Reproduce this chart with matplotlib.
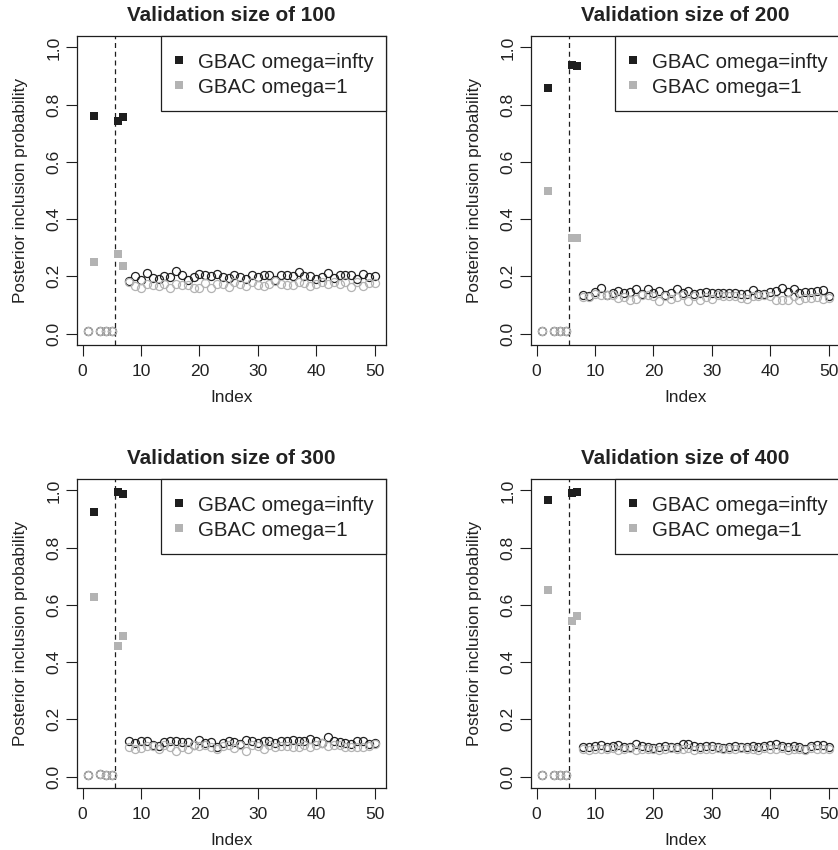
import numpy as np
import matplotlib
matplotlib.use("Agg")
import matplotlib.pyplot as plt

plt.rcParams['font.family'] = ['Liberation Sans', 'DejaVu Sans']

index = np.arange(1, 51)
signal_idx = [2, 6, 7]          # drawn as filled squares
boundary = 5.5                  # dashed vertical line
titles = ["Validation size of 100", "Validation size of 200",
          "Validation size of 300", "Validation size of 400"]
legend_labels = ["GBAC omega=infty", "GBAC omega=1"]
x_ticks = [0, 10, 20, 30, 40, 50]
y_ticks = [0.0, 0.2, 0.4, 0.6, 0.8, 1.0]

# ---- Validation size 100 ----
v100_infty = [0.010, 0.761, 0.010, 0.008, 0.008, 0.744, 0.756,
              0.184, 0.202, 0.188, 0.210, 0.195, 0.190, 0.202, 0.199, 0.217, 0.203,
              0.188, 0.196, 0.209, 0.205, 0.201, 0.209, 0.196, 0.193, 0.206, 0.196,
              0.190, 0.203, 0.199, 0.203, 0.205, 0.188, 0.205, 0.205, 0.202, 0.214,
              0.202, 0.202, 0.192, 0.199, 0.210, 0.195, 0.203, 0.203, 0.203, 0.190,
              0.207, 0.198, 0.202]
v100_one = [0.008, 0.250, 0.010, 0.008, 0.008, 0.277, 0.236,
            0.179, 0.167, 0.160, 0.174, 0.170, 0.167, 0.174, 0.160, 0.174, 0.170,
            0.170, 0.160, 0.160, 0.177, 0.160, 0.174, 0.174, 0.163, 0.179, 0.174,
            0.167, 0.179, 0.170, 0.167, 0.174, 0.185, 0.174, 0.170, 0.170, 0.179,
            0.177, 0.165, 0.174, 0.179, 0.172, 0.179, 0.174, 0.179, 0.163, 0.181,
            0.165, 0.177, 0.177]

# ---- Validation size 200 ----
v200_infty = [0.008, 0.857, 0.008, 0.008, 0.008, 0.940, 0.936,
              0.136, 0.131, 0.145, 0.159, 0.136, 0.142, 0.149, 0.142, 0.144, 0.155,
              0.140, 0.155, 0.142, 0.148, 0.134, 0.142, 0.156, 0.141, 0.150, 0.138,
              0.142, 0.144, 0.143, 0.143, 0.141, 0.142, 0.143, 0.140, 0.138, 0.151,
              0.140, 0.138, 0.144, 0.147, 0.158, 0.144, 0.155, 0.142, 0.144, 0.144,
              0.148, 0.152, 0.133]
v200_one = [0.008, 0.500, 0.008, 0.008, 0.008, 0.333, 0.333,
            0.128, 0.128, 0.137, 0.135, 0.134, 0.134, 0.124, 0.128, 0.119, 0.121,
            0.135, 0.135, 0.133, 0.114, 0.130, 0.120, 0.128, 0.135, 0.114, 0.133,
            0.119, 0.128, 0.120, 0.135, 0.130, 0.133, 0.133, 0.124, 0.121, 0.130,
            0.130, 0.135, 0.130, 0.119, 0.119, 0.119, 0.130, 0.119, 0.126, 0.126,
            0.128, 0.121, 0.124]

# ---- Validation size 300 ----
v300_infty = [0.005, 0.924, 0.010, 0.006, 0.007, 0.995, 0.988,
              0.123, 0.118, 0.126, 0.124, 0.112, 0.108, 0.120, 0.124, 0.124, 0.120,
              0.120, 0.111, 0.127, 0.116, 0.120, 0.103, 0.117, 0.124, 0.122, 0.115,
              0.129, 0.126, 0.119, 0.123, 0.123, 0.117, 0.124, 0.124, 0.129, 0.123,
              0.124, 0.131, 0.126, 0.119, 0.138, 0.126, 0.120, 0.118, 0.115, 0.123,
              0.123, 0.115, 0.117]
v300_one = [0.005, 0.629, 0.008, 0.005, 0.006, 0.456, 0.492,
            0.103, 0.095, 0.101, 0.106, 0.106, 0.095, 0.111, 0.103, 0.089, 0.103,
            0.097, 0.111, 0.106, 0.109, 0.103, 0.097, 0.106, 0.111, 0.101, 0.109,
            0.091, 0.110, 0.108, 0.096, 0.110, 0.103, 0.108, 0.108, 0.105, 0.103,
            0.111, 0.105, 0.111, 0.116, 0.106, 0.111, 0.111, 0.105, 0.103, 0.103,
            0.103, 0.106, 0.113]

# ---- Validation size 400 ----
v400_infty = [0.005, 0.968, 0.006, 0.006, 0.006, 0.990, 0.995,
              0.105, 0.103, 0.108, 0.110, 0.104, 0.107, 0.112, 0.102, 0.104, 0.115,
              0.106, 0.103, 0.101, 0.104, 0.107, 0.103, 0.104, 0.113, 0.115, 0.106,
              0.104, 0.108, 0.106, 0.103, 0.101, 0.103, 0.106, 0.105, 0.104, 0.107,
              0.105, 0.108, 0.110, 0.113, 0.107, 0.102, 0.108, 0.104, 0.097, 0.106,
              0.110, 0.111, 0.104]
v400_one = [0.005, 0.653, 0.005, 0.005, 0.006, 0.545, 0.562,
            0.098, 0.093, 0.097, 0.095, 0.096, 0.100, 0.094, 0.096, 0.100, 0.093,
            0.097, 0.095, 0.098, 0.094, 0.096, 0.100, 0.097, 0.098, 0.100, 0.093,
            0.096, 0.097, 0.095, 0.100, 0.096, 0.097, 0.095, 0.100, 0.096, 0.097,
            0.093, 0.100, 0.098, 0.095, 0.100, 0.094, 0.098, 0.096, 0.093, 0.100,
            0.097, 0.096, 0.098]

panels = [(v100_infty, v100_one), (v200_infty, v200_one),
          (v300_infty, v300_one), (v400_infty, v400_one)]

BLACK = '#1e1e1e'
GRAY = '#b3b3b3'

W, H = 838, 850
fig = plt.figure(figsize=(W / 100, H / 100), dpi=100)

box = 309
lefts = [77, 531]
tops = [36, 479]
SQ = 5.8 ** 2

for k, (infty, one) in enumerate(panels):
    r, c = divmod(k, 2)
    l = lefts[c]
    t = tops[r]
    ax = fig.add_axes([l / W, 1 - (t + box) / H, box / W, box / H])
    infty = np.asarray(infty)
    one = np.asarray(one)
    sig = np.isin(index, signal_idx)

    ax.scatter(index[sig], infty[sig], marker='s', s=SQ, color=BLACK,
               linewidths=0, label=legend_labels[0], zorder=3)
    ax.plot(index[~sig], infty[~sig], 'o', mfc='none', mec=BLACK, ms=5.8,
            mew=0.9, zorder=3)
    ax.scatter(index[sig], one[sig], marker='s', s=SQ, color=GRAY,
               linewidths=0, label=legend_labels[1], zorder=4)
    ax.plot(index[~sig], one[~sig], 'o', mfc='none', mec=GRAY, ms=5.8,
            mew=0.9, zorder=4)

    ax.axvline(boundary, color=BLACK, lw=0.9, ls=(0, (4, 3)), zorder=2)

    ax.set_xlim(1 - 0.04 * 49, 50 + 0.04 * 49)
    ax.set_ylim(-0.04, 1.04)
    ax.set_xticks(x_ticks)
    ax.set_yticks(y_ticks)
    ax.set_yticklabels([f"{v:.1f}" for v in y_ticks], rotation=90, va='center')
    ax.tick_params(length=7.9, width=0.8, labelsize=12.6, color=BLACK,
                   labelcolor='#222222')
    ax.tick_params(axis='x', pad=6)
    ax.tick_params(axis='y', pad=3)
    for s in ax.spines.values():
        s.set_linewidth(0.9)
        s.set_color(BLACK)

    ax.set_title(titles[k], fontsize=14.9, fontweight='bold', pad=11,
                 color='#222222')
    ax.set_xlabel("Index", fontsize=12.4, color='#222222')
    ax.set_ylabel("Posterior inclusion probability", fontsize=12.4,
                  color='#222222')
    ax.xaxis.set_label_coords(0.5, -0.146)
    ax.yaxis.set_label_coords(-0.158, 0.5)

    leg = ax.legend(loc='upper right', borderaxespad=0, fontsize=14.8,
                    fancybox=False, framealpha=1, edgecolor=BLACK,
                    handlelength=0.5, handletextpad=0.68, borderpad=0.6,
                    labelspacing=0.0, handleheight=1.5, markerscale=1.0,
                    scatterpoints=1, scatteryoffsets=[0.29])
    leg.get_frame().set_linewidth(0.9)
    for txt in leg.get_texts():
        txt.set_color('#222222')

fig.savefig("out.png", dpi=100)
